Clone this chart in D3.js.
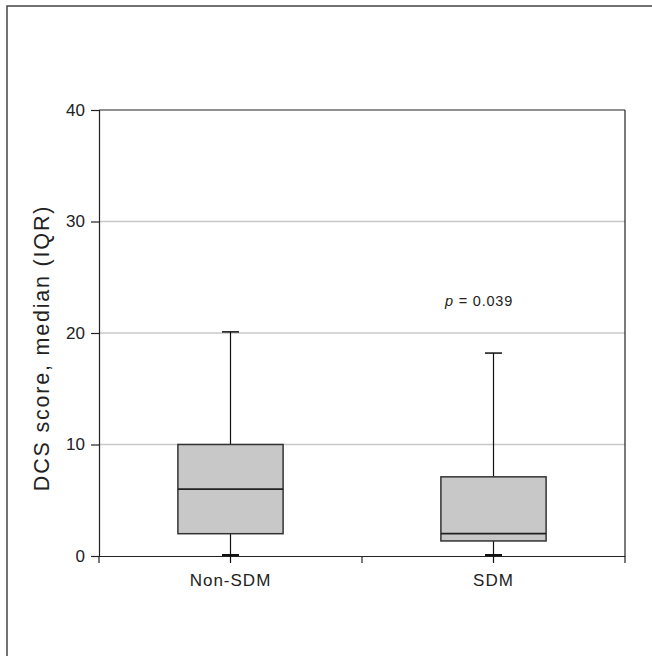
<!DOCTYPE html>
<html><head><meta charset="utf-8">
<script src="https://cdn.jsdelivr.net/npm/d3@7"></script>
<style>
html,body{margin:0;padding:0;background:#fff;}
svg{display:block;font-family:"Liberation Sans",Arial,Helvetica,sans-serif;}
</style></head>
<body>
<svg id="chart" width="652" height="656"></svg>
<script>
const categories = ["Non-SDM", "SDM"];
const mins    = [0, 0];
const q1s     = [2, 1.35];
const medians = [6, 2];
const q3s     = [10, 7.1];
const maxs    = [20.1, 18.2];
const yTicks  = [0, 10, 20, 30, 40];
const yTitle  = "DCS score, median (IQR)";
const pLabel  = "0.039";

const data = categories.map((c, i) => ({cat: c, min: mins[i], q1: q1s[i], med: medians[i], q3: q3s[i], max: maxs[i]}));

const svg = d3.select("#chart");
const L = 99, R = 625, T = 110, B = 556;

// outer frame
svg.append("rect").attr("x", 7).attr("y", 6).attr("width", 700).attr("height", 700)
  .attr("fill", "none").attr("stroke", "#444").attr("stroke-width", 1.5);

const x = d3.scaleBand().domain(categories).range([L, R]).padding(0);
const y = d3.scaleLinear().domain([0, 40]).range([B, T]);

// gridlines
svg.append("g").selectAll("line").data(yTicks.filter(t => t > 0 && t < 40)).join("line")
  .attr("x1", L).attr("x2", R).attr("y1", d => y(d)).attr("y2", d => y(d))
  .attr("stroke", "#c8c8c8").attr("stroke-width", 1.5);

// plot border top & right
svg.append("line").attr("x1", L).attr("x2", R).attr("y1", T).attr("y2", T).attr("stroke", "#222").attr("stroke-width", 1.2);
svg.append("line").attr("x1", R).attr("x2", R).attr("y1", T).attr("y2", B).attr("stroke", "#222").attr("stroke-width", 1.2);

// y axis
const yAxis = svg.append("g").attr("transform", `translate(${L},0)`)
  .call(d3.axisLeft(y).tickValues(yTicks).tickSize(8).tickPadding(6).tickFormat(d3.format("d")));
yAxis.select(".domain").attr("stroke", "#222").attr("stroke-width", 1.2);
yAxis.selectAll(".tick line").attr("stroke", "#222").attr("stroke-width", 1.2);
yAxis.selectAll("text").attr("font-size", 17).attr("fill", "#222").attr("font-family", "Liberation Sans, Arial, sans-serif");

// x axis
const xAxis = svg.append("g").attr("transform", `translate(0,${B})`)
  .call(d3.axisBottom(x).tickSize(0).tickPadding(18));
xAxis.select(".domain").attr("stroke", "#222").attr("stroke-width", 1.2);
xAxis.selectAll("text").attr("font-size", 17).attr("fill", "#222").attr("letter-spacing", "1px")
  .attr("font-family", "Liberation Sans, Arial, sans-serif");
// band boundary ticks
const bounds = [L, ...categories.slice(1).map(c => x(c)), R];
xAxis.selectAll(".bt").data(bounds).join("line").attr("class", "bt")
  .attr("x1", d => d).attr("x2", d => d).attr("y1", 0).attr("y2", 7)
  .attr("stroke", "#222").attr("stroke-width", 1.2);

// y title
svg.append("text")
  .attr("transform", `translate(49,${(T + B) / 2 + 15}) rotate(-90)`)
  .attr("text-anchor", "middle")
  .attr("font-size", 21.5).attr("fill", "#222").attr("letter-spacing", "1.8px")
  .text(yTitle);

// boxes
const bw = x.bandwidth() * 0.4;
const capW = 17;
const g = svg.append("g").selectAll("g").data(data).join("g")
  .attr("transform", d => `translate(${x(d.cat) + x.bandwidth() / 2},0)`);
g.append("line").attr("x1", 0).attr("x2", 0).attr("y1", d => y(d.max)).attr("y2", d => y(d.q3)).attr("stroke", "#111").attr("stroke-width", 1.2);
g.append("line").attr("x1", 0).attr("x2", 0).attr("y1", d => y(d.q1)).attr("y2", d => y(d.min) + 7).attr("stroke", "#111").attr("stroke-width", 1.2);
g.append("line").attr("x1", -capW / 2).attr("x2", capW / 2).attr("y1", d => y(d.max)).attr("y2", d => y(d.max)).attr("stroke", "#111").attr("stroke-width", 1.5);
g.append("line").attr("x1", -capW / 2).attr("x2", capW / 2).attr("y1", d => y(d.min) - 1).attr("y2", d => y(d.min) - 1).attr("stroke", "#111").attr("stroke-width", 2);
g.append("rect").attr("x", -bw / 2).attr("width", bw)
  .attr("y", d => y(d.q3)).attr("height", d => y(d.q1) - y(d.q3))
  .attr("fill", "#c8c8c8").attr("stroke", "#333").attr("stroke-width", 1.5);
g.append("line").attr("x1", -bw / 2).attr("x2", bw / 2).attr("y1", d => y(d.med)).attr("y2", d => y(d.med)).attr("stroke", "#222").attr("stroke-width", 1.8);

// p value
const pt = svg.append("text").attr("x", 445).attr("y", 306).attr("font-size", 14.5).attr("fill", "#222").attr("letter-spacing", "0.8px");
pt.append("tspan").attr("font-style", "italic").text("p");
pt.append("tspan").text(" = " + pLabel);
</script>
</body></html>
